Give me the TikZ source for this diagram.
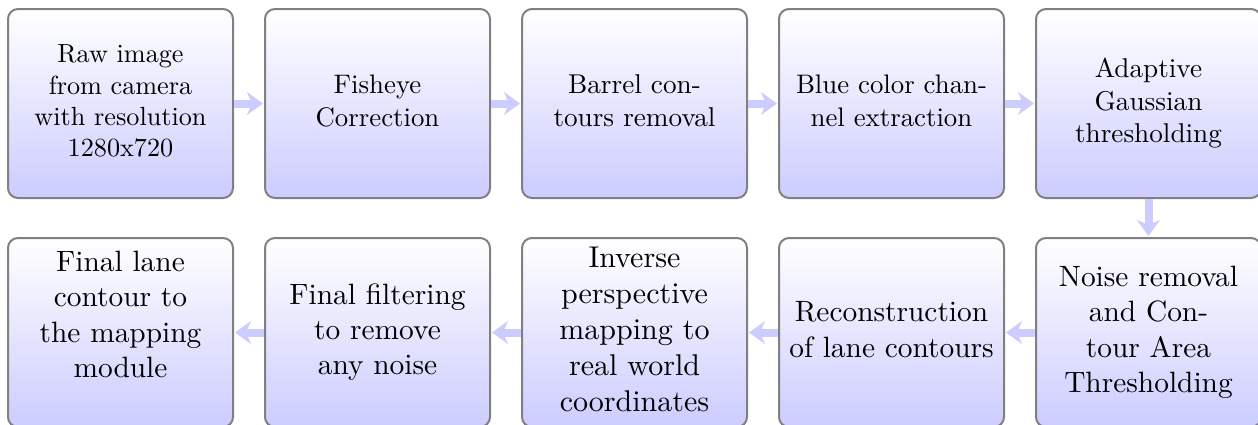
\documentclass[tikz,border=0pt]{standalone}
\usepackage{graphicx}
\usetikzlibrary{arrows.meta,shadings}
\newcommand{\stagetext}[2][1.3]{\scalebox{#1}{\fontsize{10}{12}\selectfont\begin{tabular}{@{}c@{}}#2\end{tabular}}}
\begin{document}
\begin{tikzpicture}[x=0.5pt,y=-0.5pt,
  stagebox/.style={draw=gray, line width=1pt, rounded corners=5pt,
    top color=white, bottom color=blue!20,
    minimum width=112.5pt, minimum height=94.5pt, inner sep=0pt,
    align=center},
  flow/.style={draw=blue!20, line width=4pt,
    -{Stealth[length=8pt,width=11.5pt,inset=2.5pt]}, shorten >=0.5pt}
]
\useasboundingbox (0,0) rectangle (1258,424);
% row 1
\node[stagebox] (a1) at (120.5,103.5) {\stagetext[1.31]{Raw image\\from camera\\with resolution\\1280x720}};
\node[stagebox] (a2) at (377.5,103.5) {\stagetext[1.34]{Fisheye\\Correction}};
\node[stagebox] (a3) at (634.5,103.5) {\stagetext[1.36]{Barrel con-\\tours removal}};
\node[stagebox] (a4) at (891.5,103.5) {\stagetext[1.34]{Blue color chan-\\nel extraction}};
\node[stagebox] (a5) at (1148.5,103.5) {\stagetext[1.36]{Adaptive\\Gaussian\\thresholding}};
% row 2
\node[stagebox] (b5) at (1148.5,332.5) {\stagetext[1.47]{Noise removal\\and Con-\\tour Area\\Thresholding}};
\node[stagebox] (b4) at (891.5,332.5) {\stagetext[1.47]{Reconstruction\\of lane contours}};
\node[stagebox] (b3) at (634.5,332.5) {\stagetext[1.5]{Inverse\\perspective\\mapping to\\real world\\coordinates}};
\node[stagebox] (b2) at (377.5,332.5) {\stagetext[1.47]{Final filtering\\to remove\\any noise}};
\node[stagebox] (b1) at (120.5,332.5) {\raisebox{7.5pt}[\height][\depth]{\stagetext[1.47]{Final lane\\contour to\\the mapping\\module}}};
% connectors
\draw[flow] (a1) -- (a2);
\draw[flow] (a2) -- (a3);
\draw[flow] (a3) -- (a4);
\draw[flow] (a4) -- (a5);
\draw[flow] (a5) -- (b5);
\draw[flow] (b5) -- (b4);
\draw[flow] (b4) -- (b3);
\draw[flow] (b3) -- (b2);
\draw[flow] (b2) -- (b1);
\end{tikzpicture}
\end{document}
